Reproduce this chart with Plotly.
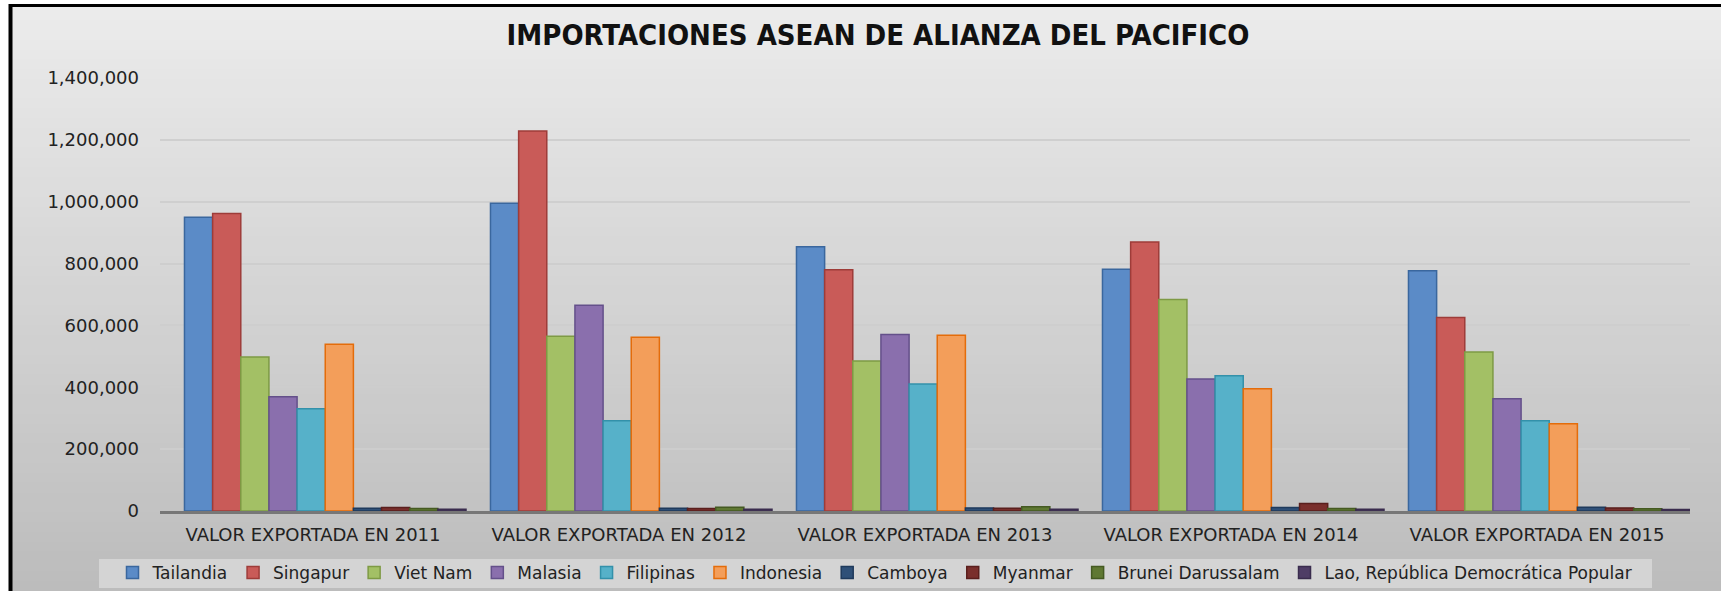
import plotly.graph_objects as go

categories = ["VALOR EXPORTADA EN 2011", "VALOR EXPORTADA EN 2012", "VALOR EXPORTADA EN 2013",
              "VALOR EXPORTADA EN 2014", "VALOR EXPORTADA EN 2015"]

tailandia = [950000, 995000, 854000, 782000, 777000]
singapur = [962000, 1229000, 780000, 870000, 626000]
viet_nam = [498000, 565000, 485000, 684000, 514000]
malasia = [369000, 665000, 571000, 427000, 363000]
filipinas = [331000, 292000, 411000, 437000, 292000]
indonesia = [539000, 562000, 568000, 395000, 282000]
camboya = [9000, 9000, 10000, 11000, 12000]
myanmar = [11000, 8000, 9000, 24000, 10000]
brunei = [8000, 12000, 14000, 8000, 7000]
lao = [6000, 6000, 6000, 6000, 5000]

series_names = ["Tailandia", "Singapur", "Viet Nam", "Malasia", "Filipinas", "Indonesia",
                "Camboya", "Myanmar", "Brunei Darussalam", "Lao, República Democrática Popular"]
series_values = [tailandia, singapur, viet_nam, malasia, filipinas, indonesia,
                 camboya, myanmar, brunei, lao]
fill_colors = ["#5B8BC7", "#C95B58", "#A3C065", "#8A6FAD", "#56B1C9", "#F39E5A",
               "#2F5078", "#7A2F2C", "#5F7832", "#4F3D66"]
line_colors = ["#3A679E", "#9E3C39", "#7E9A44", "#64508A", "#3391AA", "#E46C0A",
               "#1F3A5C", "#5A1F1D", "#455A22", "#3A2C4E"]

y_ticks = [0, 200000, 400000, 600000, 800000, 1000000, 1200000, 1400000]
y_tick_text = ["0", "200,000", "400,000", "600,000", "800,000", "1,000,000", "1,200,000", "1,400,000"]

W, H = 1721, 591
L, R, T, B = 160, 31, 78, 80
pw, ph = W - L - R, H - T - B


def px(x):
    return (x - L) / pw


def py(y):
    return (H - B - y) / ph


group_w = 0.92
bar_w = group_w / len(series_names)
shift = 0.04

fig = go.Figure()
for i, (name, vals, fc, lc) in enumerate(zip(series_names, series_values, fill_colors, line_colors)):
    fig.add_trace(go.Bar(name=name, x=categories, y=vals,
                         width=bar_w, offset=-group_w / 2 + i * bar_w + shift,
                         marker=dict(color=fc, line=dict(color=lc, width=1.5))))

shapes = []
# background vertical gradient
n = 60
top_c, bot_c = (236, 236, 236), (188, 188, 188)
for i in range(n):
    t = i / (n - 1)
    c = tuple(int(round(top_c[k] + (bot_c[k] - top_c[k]) * t)) for k in range(3))
    y0 = i * H / n
    y1 = (i + 1) * H / n + 1
    shapes.append(dict(type="rect", xref="paper", yref="paper", layer="below",
                       x0=px(0), x1=px(W), y0=py(y1), y1=py(y0),
                       fillcolor="rgb(%d,%d,%d)" % c, line=dict(width=0)))
# white outside frame
shapes.append(dict(type="rect", xref="paper", yref="paper", layer="below",
                   x0=px(0), x1=px(9), y0=py(H), y1=py(0),
                   fillcolor="white", line=dict(width=0)))
shapes.append(dict(type="rect", xref="paper", yref="paper", layer="below",
                   x0=px(0), x1=px(W), y0=py(4), y1=py(0),
                   fillcolor="white", line=dict(width=0)))
# legend background
shapes.append(dict(type="rect", xref="paper", yref="paper", layer="below",
                   x0=px(99), x1=px(1652), y0=py(588), y1=py(559),
                   fillcolor="rgb(212,212,212)", line=dict(width=0)))
# frame lines
shapes.append(dict(type="line", xref="paper", yref="paper", layer="above",
                   x0=px(10.5), x1=px(10.5), y0=py(4), y1=py(H + 5),
                   line=dict(color="black", width=4)))
shapes.append(dict(type="line", xref="paper", yref="paper", layer="above",
                   x0=px(9), x1=px(W + 5), y0=py(5.5), y1=py(5.5),
                   line=dict(color="black", width=3)))

fig.update_layout(
    width=W, height=H,
    margin=dict(l=L, r=R, t=T, b=B, autoexpand=False),
    paper_bgcolor="rgb(220,220,220)",
    plot_bgcolor="rgba(0,0,0,0)",
    shapes=shapes,
    barmode="group",
    title=dict(text="<b>IMPORTACIONES ASEAN DE ALIANZA DEL PACIFICO</b>",
               x=878 / W, xanchor="center", y=1 - 35 / H, yanchor="middle",
               font=dict(family="DejaVu Sans Condensed, DejaVu Sans", size=29, color="#111111")),
    font=dict(family="DejaVu Sans", color="#222222"),
    xaxis=dict(showgrid=False, showline=True, linecolor="#777777", linewidth=3,
               automargin=False, range=[-0.5, 4.5],
               ticks="", ticklabelstandoff=5, tickfont=dict(size=18, color="#222222")),
    yaxis=dict(range=[0, 1400000], tickvals=y_ticks, ticktext=y_tick_text,
               automargin=False,
               showgrid=True, gridcolor="rgba(205,205,205,0.9)", gridwidth=1.5,
               zeroline=False, showline=False, ticks="", ticklabelstandoff=20,
               tickfont=dict(size=18, color="#222222")),
    legend=dict(orientation="h", x=875 / W, xref="container", xanchor="center",
                y=(H - 573) / H, yref="container", yanchor="middle",
                bgcolor="rgba(0,0,0,0)", font=dict(size=17, color="#222222"),
                itemwidth=30, tracegroupgap=0, traceorder="normal"),
)

fig.write_html("out.html", config={"displayModeBar": False},
               post_script="document.body.style.margin='0';document.body.style.overflow='hidden';")
